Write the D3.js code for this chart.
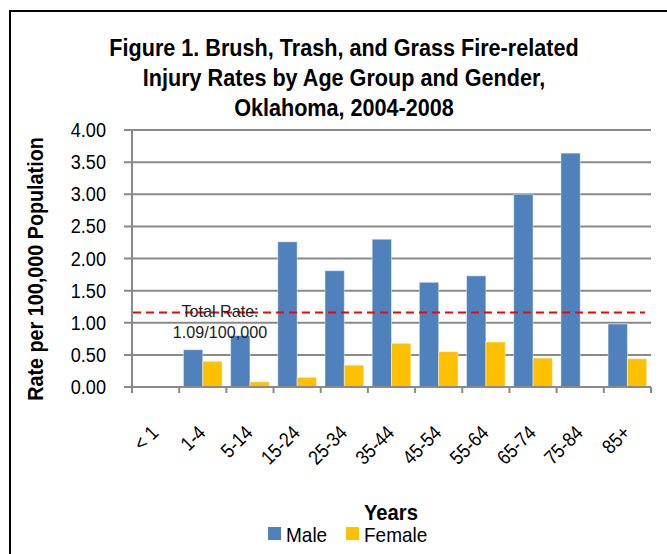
<!DOCTYPE html>
<html>
<head>
<meta charset="utf-8">
<script src="https://cdn.jsdelivr.net/npm/d3@7"></script>
<style>
  html, body { margin: 0; padding: 0; background: #fff; }
  svg { display: block; font-family: "Liberation Sans", Arial, sans-serif; }
</style>
</head>
<body>
<svg id="chart" width="667" height="554"></svg>
<script>
const titleLines = ["Figure 1. Brush, Trash, and Grass Fire-related", "Injury Rates by Age Group and Gender,", "Oklahoma, 2004-2008"];
const categories = ["< 1", "1-4", "5-14", "15-24", "25-34", "35-44", "45-54", "55-64", "65-74", "75-84", "85+"];
const seriesNames = ["Male", "Female"];
const maleValues = [null, 0.58, 0.80, 2.26, 1.81, 2.30, 1.63, 1.73, 3.00, 3.64, 0.98];
const femaleValues = [null, 0.40, 0.08, 0.15, 0.34, 0.68, 0.55, 0.70, 0.45, null, 0.44];
const yTicks = [0, 0.5, 1, 1.5, 2, 2.5, 3, 3.5, 4];
const totalRateLine = 1.16;
const annotationLines = ["Total Rate:", "1.09/100,000"];
const yAxisTitle = "Rate per 100,000 Population";
const xAxisTitle = "Years";
const colors = { Male: "#4F81BD", Female: "#FFC000" };

const svg = d3.select("#chart");

// frame
svg.append("path")
  .attr("d", "M10,560 L10,11 L680,11")
  .attr("fill", "none").attr("stroke", "#000").attr("stroke-width", 2);

const plot = { left: 132, right: 651, top: 130, bottom: 387 };
const y = d3.scaleLinear().domain([0, 4]).range([plot.bottom, plot.top]);
const x0 = d3.scaleBand().domain(categories).range([plot.left, plot.right]).padding(0);
const x1 = d3.scaleBand().domain(seriesNames).range([0, x0.bandwidth()]).paddingInner(0).paddingOuter(0.22);

// title
titleLines.forEach((t, i) => {
  svg.append("text")
    .attr("transform", `translate(344,${56 + i * 30}) scale(0.9,1)`)
    .attr("text-anchor", "middle")
    .attr("font-weight", "bold")
    .attr("font-size", 24)
    .attr("fill", "#000")
    .text(t);
});

// gridlines
svg.append("g").selectAll("line").data(yTicks).join("line")
  .attr("x1", plot.left - 8).attr("x2", plot.right)
  .attr("y1", d => y(d)).attr("y2", d => y(d))
  .attr("stroke", "#8a8a8a").attr("stroke-width", 2);

// y axis line
svg.append("line")
  .attr("x1", plot.left).attr("x2", plot.left)
  .attr("y1", y(4)).attr("y2", y(0))
  .attr("stroke", "#8a8a8a").attr("stroke-width", 2);

// y labels
svg.append("g").selectAll("text").data(yTicks).join("text")
  .attr("transform", d => `translate(106,${y(d)}) scale(0.93,1)`)
  .attr("dy", "0.36em")
  .attr("text-anchor", "end")
  .attr("font-size", 19.5)
  .attr("fill", "#000")
  .text(d => d3.format(".2f")(d));

// x axis ticks
const boundaries = categories.map(c => x0(c)).concat([plot.right]);
svg.append("g").selectAll("line").data(boundaries).join("line")
  .attr("x1", d => d).attr("x2", d => d)
  .attr("y1", plot.bottom).attr("y2", plot.bottom + 6)
  .attr("stroke", "#8a8a8a").attr("stroke-width", 2);

// bars
const rows = categories.map((c, i) => ({ cat: c, Male: maleValues[i], Female: femaleValues[i] }));
const groups = svg.append("g").selectAll("g").data(rows).join("g")
  .attr("transform", d => `translate(${x0(d.cat)},0)`);
groups.selectAll("rect")
  .data(d => seriesNames.filter(s => d[s] != null).map(s => ({ s, v: d[s] })))
  .join("rect")
  .attr("x", d => x1(d.s))
  .attr("width", x1.bandwidth())
  .attr("y", d => y(d.v))
  .attr("height", d => y(0) - y(d.v))
  .attr("fill", d => colors[d.s])
  .attr("stroke", "rgba(255,255,255,0.45)")
  .attr("stroke-width", 1);

// x axis baseline (on top of bars)
svg.append("line")
  .attr("x1", plot.left).attr("x2", plot.right)
  .attr("y1", plot.bottom).attr("y2", plot.bottom)
  .attr("stroke", "#8a8a8a").attr("stroke-width", 2);

// total rate line
svg.append("line")
  .attr("x1", plot.left + 1).attr("x2", 645)
  .attr("y1", y(totalRateLine)).attr("y2", y(totalRateLine))
  .attr("stroke", "#ff0000").attr("stroke-width", 2)
  .attr("stroke-dasharray", "8,5");

// annotation
annotationLines.forEach((t, i) => {
  svg.append("text")
    .attr("transform", `translate(220,${317 + i * 21}) scale(0.95,1)`)
    .attr("text-anchor", "middle")
    .attr("font-size", 17)
    .attr("fill", "#222")
    .text(t);
});

// x labels
svg.append("g").selectAll("text").data(categories).join("text")
  .attr("transform", d => `translate(${x0(d) + x0.bandwidth() / 2 + 4},434) rotate(-45) scale(0.88,1)`)
  .attr("text-anchor", "end")
  .attr("font-size", 20)
  .attr("fill", "#000")
  .text(d => d);

// y axis title
svg.append("text")
  .attr("transform", `translate(43,269) rotate(-90) scale(0.92,1)`)
  .attr("text-anchor", "middle")
  .attr("font-weight", "bold")
  .attr("font-size", 21.5)
  .attr("fill", "#000")
  .text(yAxisTitle);

// x axis title
svg.append("text")
  .attr("transform", `translate(391,520) scale(0.92,1)`)
  .attr("text-anchor", "middle")
  .attr("font-weight", "bold")
  .attr("font-size", 22)
  .attr("fill", "#000")
  .text(xAxisTitle);

// legend
const legendPos = { Male: 268, Female: 346 };
const legend = svg.append("g").selectAll("g").data(seriesNames).join("g")
  .attr("transform", d => `translate(${legendPos[d]},527)`);
legend.append("rect").attr("width", 13).attr("height", 13).attr("fill", d => colors[d]);
legend.append("text").attr("transform", "translate(18,15) scale(0.95,1)")
  .attr("font-size", 20).attr("fill", "#000").text(d => d);
</script>
</body>
</html>
